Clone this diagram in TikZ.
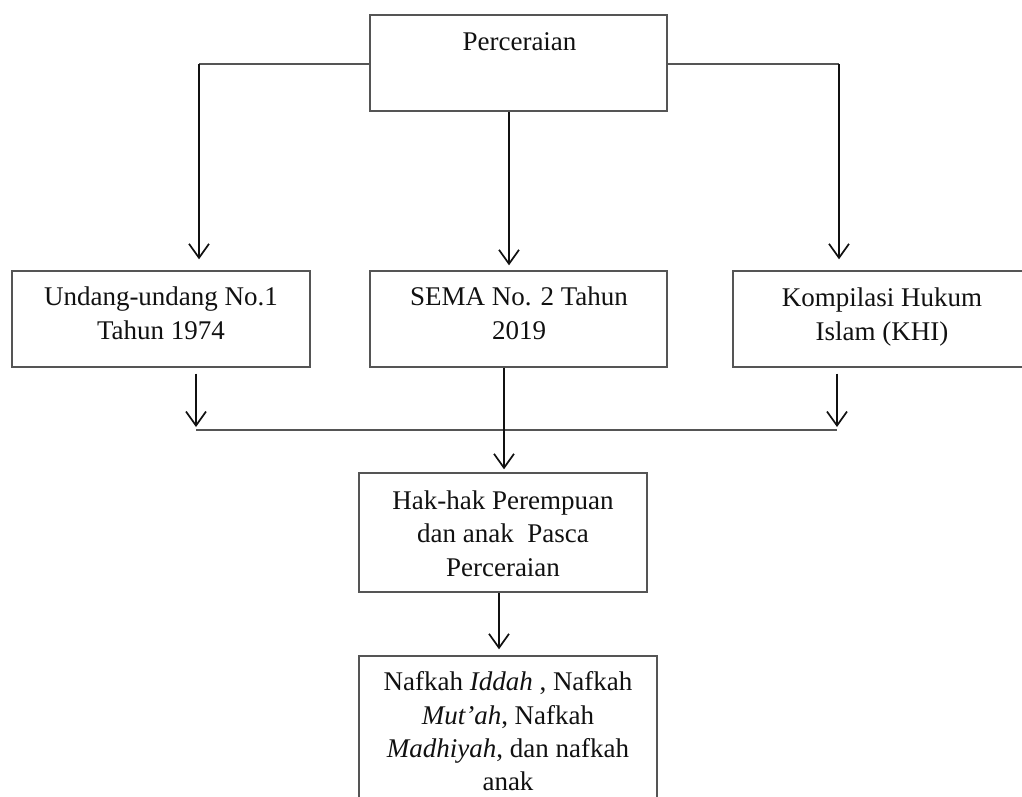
\documentclass[tikz,border=0pt]{standalone}
\usepackage{fontspec}
\setmainfont{Liberation Serif}
\usetikzlibrary{arrows.meta,calc}
\definecolor{boxline}{HTML}{555555}
\definecolor{ink}{HTML}{111111}
\tikzset{
  box/.style={draw=boxline, line width=1.4pt, rectangle, inner sep=0pt},
  txt/.style={inner sep=0pt, anchor=north, align=center, text=ink,
    font=\fontsize{27}{34}\selectfont},
  conn/.style={draw=boxline, line width=1.4pt},
  arr/.style={draw=ink, line width=1.7pt, -{Straight Barb[length=14pt,width=20pt,line width=1.7pt]}},
}
\newcommand{\fl}{\rule{0pt}{22pt}}
\begin{document}
\begin{tikzpicture}[x=1pt,y=-1pt]
\useasboundingbox (0,0) rectangle (1022,797);
\begin{scope}
\clip (0,0) rectangle (1022,797);
% boxes
\node[box, minimum width=297pt, minimum height=96pt] (top) at (518.5,63) {};
\node[box, minimum width=298pt, minimum height=96pt] (b1) at (161,319) {};
\node[box, minimum width=297pt, minimum height=96pt] (b2) at (518.5,319) {};
\node[box, minimum width=298pt, minimum height=96pt] (b3) at (882,319) {};
\node[box, minimum width=288pt, minimum height=119pt] (hak) at (503,532.5) {};
\node[box, minimum width=298pt, minimum height=180pt] (bot) at (508,746) {};
% texts
\node[txt] (ttop) at (519.5,28) {\fl Perceraian};
\node[txt] (tb1) at (161,283) {\fl Undang-undang No.1\\Tahun 1974};
\node[txt] (tb2) at (519,283) {\fl SEMA No. 2 Tahun\\2019};
\node[txt] (tb3) at (882,284) {\fl Kompilasi Hukum\\Islam (KHI)};
\node[txt, font=\fontsize{27}{33.5}\selectfont] (thak) at (503,487) {\fl Hak-hak Perempuan\\dan anak~~Pasca\\Perceraian};
\node[txt, font=\fontsize{27}{33.3}\selectfont] (tbot) at (508,668.5) {\fl Nafkah \textit{Iddah} , Nafkah\\\textit{Mut’ah}, Nafkah\\\textit{Madhiyah}, dan nafkah\\anak};
% top connectors
\coordinate (cl) at (199,64);
\coordinate (cr) at (839,64);
\coordinate (cm) at (509,0);
\draw[conn] (top.west |- cl) -- (cl);
\draw[conn] (top.east |- cr) -- (cr);
\draw[arr] (cl) -- ($(cl |- b1.north)+(0,-11)$);
\draw[arr] (top.south -| cm) -- ($(cm |- b2.north)+(0,-5)$);
\draw[arr] (cr) -- ($(cr |- b3.north)+(0,-11)$);
% lower connectors
\coordinate (jl) at (196,430);
\coordinate (jr) at (837,430);
\coordinate (jm) at (504,0);
\coordinate (jb) at (499,0);
\draw[conn] (jl) -- (jr);
\draw[arr] ($(b1.south -| jl)+(0,6)$) -- ($(jl)+(0,-3)$);
\draw[arr] ($(b3.south -| jr)+(0,6)$) -- ($(jr)+(0,-3)$);
\draw[arr] (b2.south -| jm) -- ($(jm |- hak.north)+(0,-3)$);
\draw[arr] (hak.south -| jb) -- ($(jb |- bot.north)+(0,-6)$);
\end{scope}
\end{tikzpicture}
\end{document}
